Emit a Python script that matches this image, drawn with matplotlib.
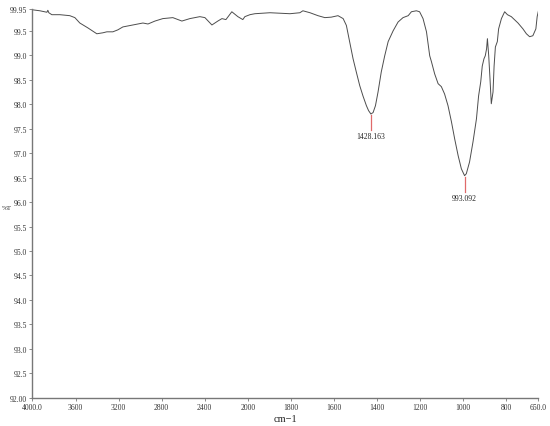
import numpy as np
import matplotlib
matplotlib.use("Agg")
import matplotlib.pyplot as plt

plt.rcParams['font.family'] = ['Liberation Serif', 'DejaVu Serif']

wavenumber = [4000, 3931, 3866, 3857, 3848, 3820, 3745, 3653, 3606, 3560, 3485, 3402, 3346, 3309,
              3253, 3207, 3160, 3067, 2974, 2927, 2862, 2789, 2696, 2612, 2538, 2445, 2398, 2333,
              2278, 2240, 2203, 2148, 2092, 2046, 2027, 1990, 1967, 1897, 1804, 1758, 1744, 1711,
              1674, 1642, 1612, 1581, 1557, 1542, 1527, 1511, 1496, 1480, 1465, 1449, 1439,
              1428.163, 1418, 1407, 1395, 1380, 1364, 1348, 1325, 1302, 1279, 1255, 1240, 1217,
              1202, 1186, 1170, 1155, 1147, 1132, 1116, 1101, 1086, 1070, 1054, 1039, 1023, 1008,
              993.092, 985, 970, 954, 938, 928, 918, 911, 903, 897, 891, 887, 881, 875, 869, 861,
              856, 850, 841, 835, 822, 807, 794, 776, 745, 722, 706, 691, 676, 662, 656, 650]
transmittance = [99.93, 99.91, 99.88, 99.92, 99.87, 99.83, 99.83, 99.81, 99.77, 99.66, 99.56, 99.44,
                 99.46, 99.48, 99.48, 99.52, 99.58, 99.62, 99.66, 99.64, 99.70, 99.75, 99.77, 99.70,
                 99.75, 99.79, 99.77, 99.62, 99.70, 99.75, 99.73, 99.89, 99.79, 99.73, 99.79, 99.83,
                 99.85, 99.87, 99.85, 99.87, 99.91, 99.87, 99.81, 99.77, 99.78, 99.81, 99.75, 99.61,
                 99.28, 98.93, 98.66, 98.38, 98.17, 97.97, 97.87, 97.80, 97.83, 97.97, 98.25, 98.66,
                 98.99, 99.28, 99.50, 99.68, 99.77, 99.81, 99.89, 99.91, 99.89, 99.75, 99.48, 98.99,
                 98.87, 98.62, 98.42, 98.36, 98.21, 97.97, 97.64, 97.29, 96.95, 96.68, 96.54, 96.58,
                 96.82, 97.23, 97.70, 98.17, 98.46, 98.78, 98.93, 98.99, 99.13, 99.34, 98.99, 98.52,
                 98.01, 98.25, 98.78, 99.17, 99.28, 99.54, 99.75, 99.89, 99.83, 99.79, 99.66, 99.54,
                 99.44, 99.38, 99.40, 99.54, 99.79, 99.91]

peak_positions = [1428.163, 993.092]
peak_values = [97.80, 96.54]
peak_labels = ["1428.163", "993.092"]

xticks = [4000, 3600, 3200, 2800, 2400, 2000, 1800, 1600, 1400, 1200, 1000, 800, 650]
xticklabels = ["4000.0", "3600", "3200", "2800", "2400", "2000", "1800", "1600", "1400",
               "1200", "1000", "800", "650.0"]
yticks = [92.0, 92.5, 93.0, 93.5, 94.0, 94.5, 95.0, 95.5, 96.0, 96.5, 97.0, 97.5, 98.0,
          98.5, 99.0, 99.5, 99.95]
yticklabels = ["92.00", "92.5", "93.0", "93.5", "94.0", "94.5", "95.0", "95.5", "96.0",
               "96.5", "97.0", "97.5", "98.0", "98.5", "99.0", "99.5", "99.95"]


def fwd(x):
    x = np.asarray(x, dtype=float)
    return np.where(x <= 2000, x, 2000 + (x - 2000) / 2.0)


def inv(u):
    u = np.asarray(u, dtype=float)
    return np.where(u <= 2000, u, 2000 + (u - 2000) * 2.0)


fig = plt.figure(figsize=(5.5, 4.27), dpi=100)
ax = fig.add_axes([0.059, 0.066, 0.92, 0.911])
ax.set_xscale('function', functions=(fwd, inv))
ax.plot(wavenumber, transmittance, color='#4d4d4d', lw=0.7)
ax.set_xlim(4000, 650)
ax.set_ylim(92.0, 99.95)

for xp, yp, lab in zip(peak_positions, peak_values, peak_labels):
    ax.plot([xp, xp], [yp - 0.02, yp - 0.33], color='#e06a6a', lw=0.9)
    ax.text(xp, yp - 0.37, lab, ha='center', va='top', fontsize=5.5, color='#222222')

ax.set_xticks(xticks)
ax.set_xticklabels(xticklabels)
ax.set_yticks(yticks)
ax.set_yticklabels(yticklabels)
ax.minorticks_off()
ax.tick_params(axis='both', labelsize=5.5, length=2.5, width=0.6, colors='#777777',
               labelcolor='#333333', pad=1.5)
for s in ['top', 'right']:
    ax.spines[s].set_visible(False)
for s in ['left', 'bottom']:
    ax.spines[s].set_color('#777777')
    ax.spines[s].set_linewidth(1.0)

ax.set_xlabel('cm\u22121', fontsize=7.5, color='#222222', labelpad=2)
fig.text(7 / 550, 1 - 209 / 427, '%T', fontsize=5, color='#333333', ha='center', va='center')

fig.savefig('out.png', dpi=100, facecolor='white')
